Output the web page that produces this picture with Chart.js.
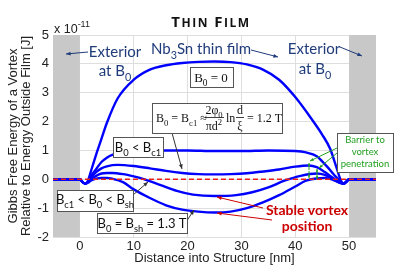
<!DOCTYPE html>
<html>
<head>
<meta charset="utf-8">
<script src="https://cdn.jsdelivr.net/npm/chart.js@4.4.1/dist/chart.umd.min.js"></script>
<style>
  body { margin: 0; background: #fff; }
  #chart { display: block; }
</style>
</head>
<body>
<canvas id="chart" width="399" height="279"></canvas>
<script>
// Energy curves (units of 1e-11 J) vs distance into structure (nm)
const xZero = [-5, 0, 0.5, 1, 1.5, 2, 3, 4, 5, 7, 10, 13, 16, 19, 22, 25, 28, 31, 34, 37, 40, 43, 45, 46.5, 47.5, 48.5, 49, 49.5, 50, 55];
const yZero = [0, 0, -0.1, -0.15, -0.05, 0.25, 0.85, 1.4, 1.95, 2.8, 3.45, 3.8, 3.95, 4.03, 4.07, 4.08, 4.06, 3.98, 3.8, 3.45, 2.85, 2.1, 1.55, 1.05, 0.5, -0.05, -0.15, -0.08, 0, 0];

const xBelowBc1 = [-5, 0, 0.5, 1, 1.5, 2, 3, 4, 5, 6, 8, 10, 15, 20, 25, 30, 35, 40, 42, 44, 45, 46, 47, 48, 48.5, 49, 49.5, 50, 55];
const yBelowBc1 = [0, 0, -0.1, -0.15, -0.08, 0.1, 0.35, 0.6, 0.75, 0.85, 0.93, 0.97, 1.0, 1.0, 0.98, 0.98, 1.0, 0.98, 0.93, 0.8, 0.62, 0.42, 0.2, 0.0, -0.1, -0.15, -0.08, 0, 0];

const xAtBc1 = [-5, 0, 0.5, 1, 1.5, 2, 3, 4, 5, 7, 10, 13, 16, 19, 22, 25, 28, 31, 34, 37, 40, 42.5, 44, 45.5, 47, 48, 49, 49.5, 50, 55];
const yAtBc1 = [0, 0, -0.1, -0.15, -0.08, 0.05, 0.25, 0.38, 0.45, 0.5, 0.46, 0.38, 0.29, 0.22, 0.18, 0.17, 0.18, 0.21, 0.27, 0.34, 0.44, 0.48, 0.42, 0.25, 0.05, -0.08, -0.15, -0.08, 0, 0];

const xMid = [-5, 0, 0.5, 1, 1.5, 2, 3, 4, 5, 6, 8, 10, 12, 15, 18, 21, 25, 29, 32, 35, 38, 41, 44, 45.5, 47, 48, 49, 49.5, 50, 55];
const yMid = [0, 0, -0.1, -0.15, -0.1, 0.0, 0.12, 0.2, 0.22, 0.22, 0.18, 0.1, 0, -0.2, -0.4, -0.53, -0.58, -0.55, -0.45, -0.28, -0.05, 0.12, 0.2, 0.15, 0.0, -0.1, -0.15, -0.08, 0, 0];

const xAtBsh = [-5, 0, 0.5, 1, 1.5, 2, 3, 4, 5, 6, 8, 10, 13, 16, 19, 22, 25, 28, 31, 34, 37, 40, 42, 44, 45.5, 47, 48, 49, 49.5, 50, 55];
const yAtBsh = [0, 0, -0.1, -0.15, -0.12, -0.05, 0.02, 0.05, 0.05, 0.02, -0.1, -0.35, -0.65, -0.9, -1.05, -1.12, -1.15, -1.12, -1.0, -0.8, -0.55, -0.25, -0.05, 0.03, 0.05, -0.02, -0.1, -0.15, -0.08, 0, 0];

const zeroLineX = [-5, 55];
const zeroLineY = [0, 0];

const xTicks = [0, 10, 20, 30, 40, 50];
const yTicks = [-2, -1, 0, 1, 2, 3, 4, 5];
const exteriorBands = [[-5, 0], [50, 55]];

function pts(xs, ys) {
  return xs.map((x, i) => ({ x: x, y: ys[i] }));
}

function curve(xs, ys) {
  return {
    data: pts(xs, ys),
    showLine: true,
    borderColor: '#0000ff',
    borderWidth: 2.4,
    pointRadius: 0,
    cubicInterpolationMode: 'monotone',
    order: 2
  };
}

// draws text made of pieces, some of them sub/superscripts or smaller
function rich(ctx, parts, x, y, size, family, color, align, weight) {
  const w = weight || 'normal';
  const sz = p => (p[1] === 'sub' || p[1] === 'sup') ? size * 0.72 : (p[1] === 'small' ? size * 0.8 : size);
  let total = 0;
  parts.forEach(p => {
    ctx.font = w + ' ' + sz(p) + 'px ' + family;
    total += ctx.measureText(p[0]).width;
  });
  let cx = x;
  if (align === 'center') cx = x - total / 2;
  if (align === 'right') cx = x - total;
  ctx.fillStyle = color;
  ctx.textAlign = 'left';
  ctx.textBaseline = 'alphabetic';
  parts.forEach(p => {
    ctx.font = w + ' ' + sz(p) + 'px ' + family;
    const dy = p[1] === 'sub' ? size * 0.3 : (p[1] === 'sup' ? -size * 0.45 : 0);
    ctx.fillText(p[0], cx, y + dy);
    cx += ctx.measureText(p[0]).width;
  });
}

function box(ctx, x1, y1, x2, y2, stroke) {
  ctx.fillStyle = '#fff';
  ctx.fillRect(x1, y1, x2 - x1, y2 - y1);
  ctx.strokeStyle = stroke || '#555';
  ctx.lineWidth = 1;
  ctx.strokeRect(x1 + 0.5, y1 + 0.5, x2 - x1, y2 - y1);
}

function arrow(ctx, x1, y1, x2, y2, color, head) {
  const h = head || 5;
  ctx.strokeStyle = color;
  ctx.fillStyle = color;
  ctx.lineWidth = 1;
  ctx.beginPath();
  ctx.moveTo(x1, y1);
  ctx.lineTo(x2, y2);
  ctx.stroke();
  const a = Math.atan2(y2 - y1, x2 - x1);
  ctx.beginPath();
  ctx.moveTo(x2, y2);
  ctx.lineTo(x2 - h * Math.cos(a - 0.4), y2 - h * Math.sin(a - 0.4));
  ctx.lineTo(x2 - h * Math.cos(a + 0.4), y2 - h * Math.sin(a + 0.4));
  ctx.closePath();
  ctx.fill();
}

const bandPlugin = {
  id: 'bands',
  beforeDatasetsDraw(chart) {
    const ctx = chart.ctx;
    const xs = chart.scales.x;
    const area = chart.chartArea;
    ctx.save();
    ctx.fillStyle = '#c8c8c8';
    exteriorBands.forEach(b => {
      const l = xs.getPixelForValue(b[0]);
      const r = xs.getPixelForValue(b[1]);
      ctx.fillRect(l, area.top, r - l, area.bottom - area.top);
    });
    ctx.restore();
  }
};

const notePlugin = {
  id: 'notes',
  afterDraw(chart) {
    const ctx = chart.ctx;
    ctx.save();
    const sans = 'Lato, "Open Sans", sans-serif';
    const serif = '"Liberation Serif", "DejaVu Serif", serif';
    const navy = '#1f3b7a';

    // title in small caps, spaced out
    ctx.letterSpacing = '1.5px';
    rich(ctx, [['T'], ['HIN', 'small'], [' F'], ['ILM', 'small']], 211, 27, 15, '"Open Sans", sans-serif', '#111', 'center', 'bold');
    ctx.letterSpacing = '0px';

    // exponent
    rich(ctx, [['x 10'], ['-11', 'sup']], 54, 33, 12.5, '"Liberation Sans", Arial, sans-serif', '#222', 'left');

    // exterior / film labels
    rich(ctx, [['Exterior']], 115, 57, 15, sans, navy, 'center');
    rich(ctx, [['at B'], ['0', 'sub']], 115, 76, 15, sans, navy, 'center');
    arrow(ctx, 88, 52, 66, 54, navy, 5);
    rich(ctx, [['Nb'], ['3', 'sub'], ['Sn thin film']], 201, 54, 15, sans, navy, 'center');
    arrow(ctx, 251, 50, 278, 57, navy, 5);
    rich(ctx, [['Exterior']], 314, 54, 15, sans, navy, 'center');
    rich(ctx, [['at B'], ['0', 'sub']], 315, 74, 15, sans, navy, 'center');
    arrow(ctx, 340, 47, 362, 56, navy, 5);

    // B0 = 0
    box(ctx, 190, 67, 233, 87);
    rich(ctx, [['B'], ['0', 'sub'], [' = 0']], 211, 82, 13, serif, '#111', 'center');

    // B0 = Bc1 equation
    arrow(ctx, 172, 133, 182, 169, '#333', 5);
    box(ctx, 152, 103, 282, 133);
    rich(ctx, [['B'], ['0', 'sub'], [' = B'], ['c1', 'sub'], [' \u2248']], 156, 122, 12, serif, '#111', 'left');
    ctx.fillStyle = '#111';
    rich(ctx, [['2\u03c6'], ['0', 'sub']], 214, 114, 12, serif, '#111', 'center');
    ctx.fillRect(205, 117, 19, 0.8);
    rich(ctx, [['\u03c0d'], ['2', 'sup']], 214, 130, 12, serif, '#111', 'center');
    rich(ctx, [['ln']], 226, 122, 12, serif, '#111', 'left');
    rich(ctx, [['d']], 240, 114, 12, serif, '#111', 'center');
    ctx.fillRect(236, 117, 8, 0.8);
    rich(ctx, [['\u03be']], 240, 130, 12, serif, '#111', 'center');
    rich(ctx, [['= 1.2 T']], 247, 122, 12, serif, '#111', 'left');

    // B0 < Bc1
    box(ctx, 113, 137, 163, 157);
    rich(ctx, [['B'], ['0', 'sub'], [' < B'], ['c1', 'sub']], 138, 152, 13, sans, '#111', 'center');

    // Bc1 < B0 < Bsh
    arrow(ctx, 133, 195, 148, 182, '#333', 5);
    box(ctx, 57, 190, 133, 211);
    rich(ctx, [['B'], ['c1', 'sub'], [' < B'], ['0', 'sub'], [' < B'], ['sh', 'sub']], 95, 204, 13, sans, '#111', 'center');

    // B0 = Bsh
    arrow(ctx, 186, 222, 194, 210, '#333', 5);
    box(ctx, 97, 213, 187, 233);
    rich(ctx, [['B'], ['0', 'sub'], [' = B'], ['sh', 'sub'], [' = 1.3 T']], 142, 228, 13, sans, '#111', 'center');

    // barrier annotation
    const green = '#22a022';
    arrow(ctx, 337, 148, 310, 161, green, 4);
    arrow(ctx, 337, 153, 319, 168, green, 4);
    arrow(ctx, 309, 170, 309, 163, green, 3);
    arrow(ctx, 309, 171, 309, 178, green, 3);
    arrow(ctx, 317, 174, 317, 169, green, 3);
    arrow(ctx, 317, 174, 317, 179, green, 3);
    box(ctx, 337, 133, 393, 172, '#555');
    rich(ctx, [['Barrier to']], 365, 143, 9.5, sans, green, 'center');
    rich(ctx, [['vortex']], 365, 155, 9.5, sans, green, 'center');
    rich(ctx, [['penetration']], 365, 167, 9.5, sans, green, 'center');

    // stable vortex position
    const red = '#cc0000';
    arrow(ctx, 263, 208, 217, 197, red, 5);
    arrow(ctx, 272, 220, 217, 213, red, 5);
    rich(ctx, [['Stable vortex']], 307, 215, 14, sans, red, 'center', 'bold');
    rich(ctx, [['position']], 307, 231, 14, sans, red, 'center', 'bold');

    ctx.restore();
  }
};

const ctx = document.getElementById('chart').getContext('2d');

new Chart(ctx, {
  type: 'scatter',
  data: {
    datasets: [
      curve(xZero, yZero),
      curve(xBelowBc1, yBelowBc1),
      curve(xAtBc1, yAtBc1),
      curve(xMid, yMid),
      curve(xAtBsh, yAtBsh),
      {
        data: pts(zeroLineX, zeroLineY),
        showLine: true,
        borderColor: '#e8201a',
        borderWidth: 1.6,
        borderDash: [5, 3],
        pointRadius: 0,
        order: 1
      }
    ]
  },
  options: {
    responsive: false,
    animation: false,
    layout: { padding: { top: 35, right: 23, left: 0, bottom: 13 } },
    plugins: { legend: { display: false }, tooltip: { enabled: false } },
    scales: {
      x: {
        type: 'linear',
        min: -5,
        max: 55,
        afterBuildTicks: s => { s.ticks = xTicks.map(v => ({ value: v })); },
        afterFit: s => { s.height = 29; },
        grid: { color: '#dedede', drawTicks: false },
        border: { display: false },
        ticks: {
          color: '#222',
          padding: 2,
          font: { family: '"Liberation Sans", Arial, sans-serif', size: 13 }
        },
        title: {
          display: true,
          text: 'Distance into Structure [nm]',
          color: '#222',
          padding: { top: 0, bottom: 0 },
          font: { family: '"Liberation Sans", Arial, sans-serif', size: 13 }
        }
      },
      y: {
        min: -2,
        max: 5,
        afterBuildTicks: s => { s.ticks = yTicks.map(v => ({ value: v })); },
        afterFit: s => { s.width = 53; },
        grid: { color: '#dedede', drawTicks: false },
        border: { display: false },
        ticks: {
          color: '#222',
          padding: 4,
          font: { family: '"Liberation Sans", Arial, sans-serif', size: 13 }
        },
        title: {
          display: true,
          text: ['Gibbs Free Energy of a Vortex', 'Relative to Energy Outside Film [J]'],
          color: '#222',
          padding: { top: 7, bottom: 0 },
          font: { family: '"Liberation Sans", Arial, sans-serif', size: 13, lineHeight: 1.0 }
        }
      }
    }
  },
  plugins: [bandPlugin, notePlugin]
});
</script>
</body>
</html>
